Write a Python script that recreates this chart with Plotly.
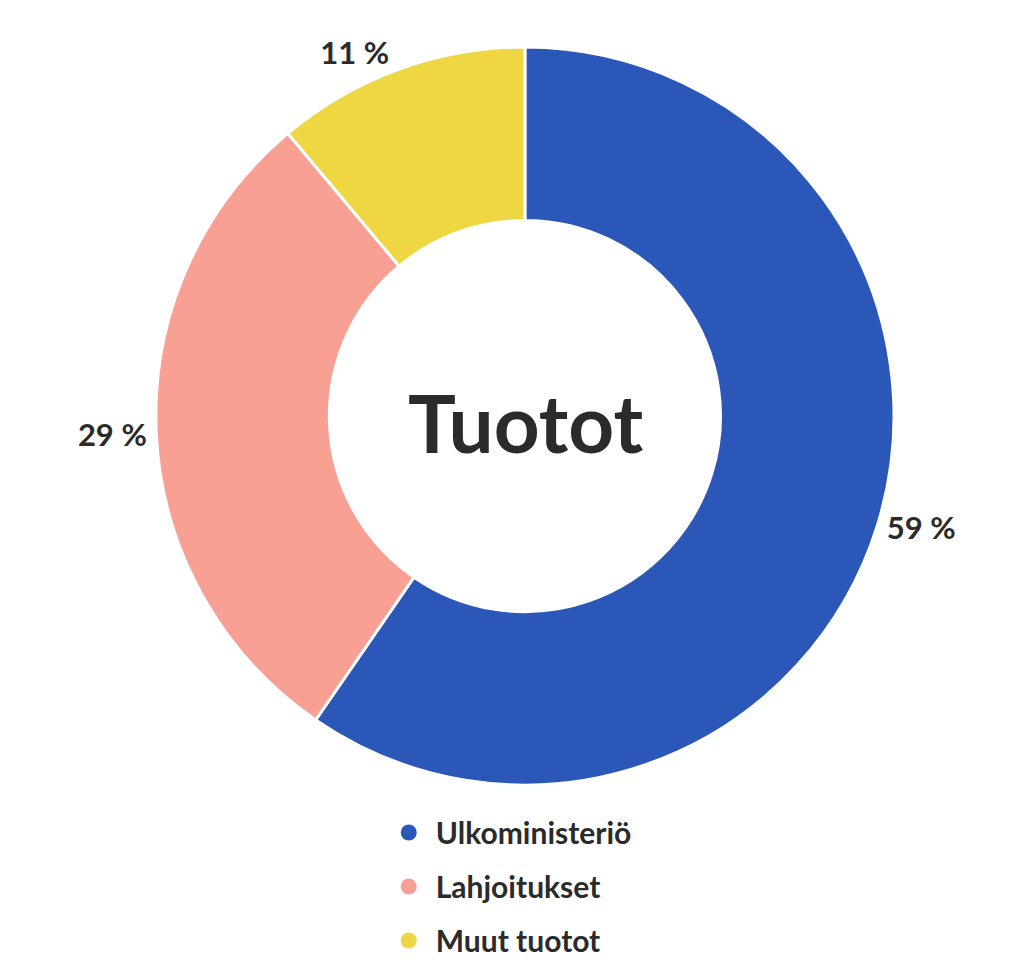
import plotly.graph_objects as go

labels = ['Ulkoministeriö', 'Lahjoitukset', 'Muut tuotot']
values = [59, 29, 11]
pct_text = ['59 %', '29 %', '11 %']
colors = ['#2B58B8', '#F7A093', '#EED742']

font_family = 'Lato, Open Sans, sans-serif'
dark = '#2B2B2B'

fig = go.Figure()

fig.add_trace(go.Pie(
    labels=labels,
    values=values,
    text=pct_text,
    textinfo='text',
    textposition='outside',
    textfont=dict(size=31, color=dark, family=font_family, weight='bold'),
    marker=dict(colors=colors, line=dict(color='white', width=3)),
    hole=0.53,
    sort=False,
    direction='clockwise',
    rotation=0,
    showlegend=False,
    hoverinfo='label+text',
    domain=dict(x=[0.1436, 0.866], y=[0.203, 0.960]),
))

# legenda ympyrämerkeillä
for name, col in zip(labels, colors):
    fig.add_trace(go.Scatter(
        x=[None], y=[None],
        mode='markers',
        name=name,
        legendgroup=name,
        marker=dict(color=col, size=24, symbol='circle'),
        showlegend=True,
    ))

fig.add_annotation(
    x=0.5049, y=0.575, xref='paper', yref='paper',
    text='Tuotot', showarrow=False,
    font=dict(size=80, color=dark, family=font_family, weight='bold'),
)

fig.update_layout(
    width=1024, height=975,
    margin=dict(l=0, r=0, t=0, b=0),
    paper_bgcolor='white',
    plot_bgcolor='white',
    xaxis=dict(visible=False),
    yaxis=dict(visible=False),
    legend=dict(
        x=0.365, y=0.181, xanchor='left', yanchor='top',
        font=dict(size=30, color=dark, family=font_family, weight='bold'),
        tracegroupgap=12,
        itemsizing='trace',
        itemwidth=44,
    ),
)

fig.write_html('out.html')
